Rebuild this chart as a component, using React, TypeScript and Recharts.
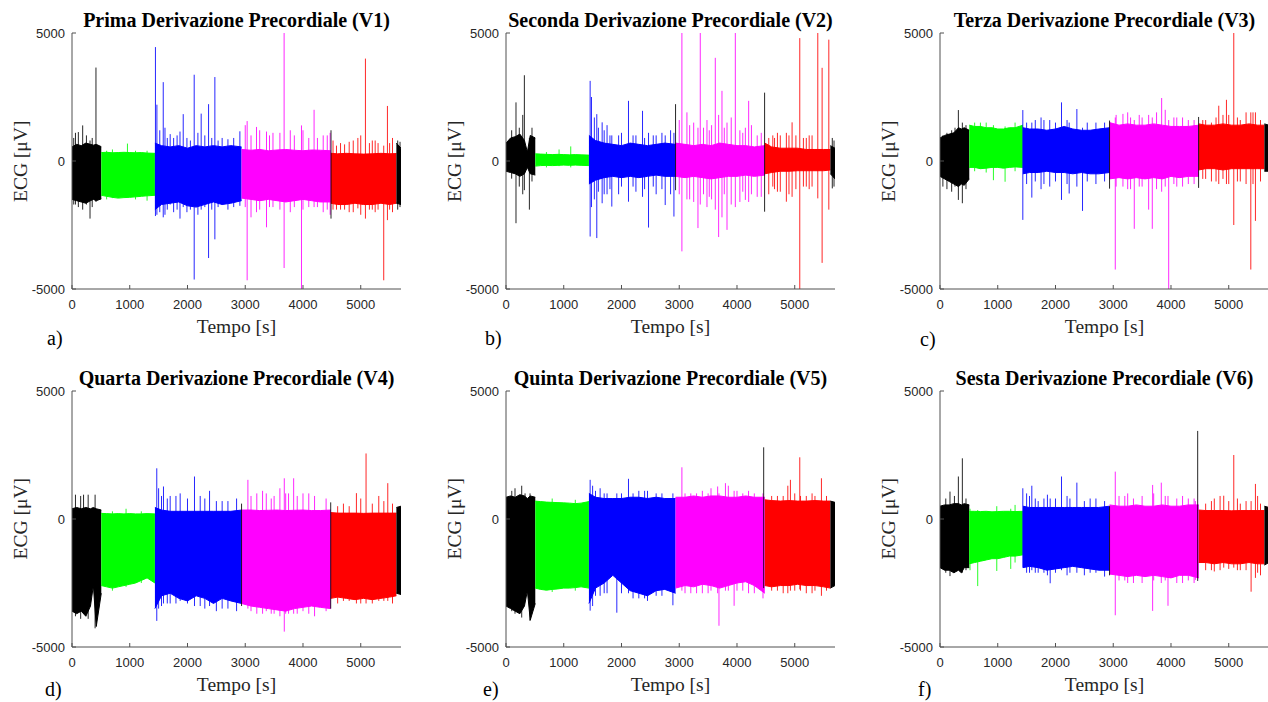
import React from 'react'
import { ComposedChart, Area, XAxis, YAxis, ReferenceLine } from 'recharts'

// time grid of each recording block (s), shared by the six leads
const SEG_T = [
  [0, 80, 160, 240, 320, 370, 420, 507],
  [507, 600, 700, 800, 900, 1000, 1100, 1200, 1300, 1436],
  [1436, 1550, 1700, 1850, 2000, 2150, 2300, 2450, 2600, 2750, 2936],
  [2936, 3100, 3250, 3400, 3550, 3700, 3850, 4000, 4150, 4300, 4481],
  [4481, 4600, 4750, 4900, 5050, 5200, 5350, 5500, 5617],
  [5617, 5697],
]
const SEG_COLORS = ['#000000', '#00ff00', '#0000ff', '#ff00ff', '#ff0000', '#000000']

const X_TICKS = [0, 1000, 2000, 3000, 4000, 5000]
const Y_TICKS = [-5000, 0, 5000]
const X_MAX = 5697

const TITLES = [
  'Prima Derivazione Precordiale (V1)',
  'Seconda Derivazione Precordiale (V2)',
  'Terza Derivazione Precordiale (V3)',
  'Quarta Derivazione Precordiale (V4)',
  'Quinta Derivazione Precordiale (V5)',
  'Sesta Derivazione Precordiale (V6)',
]
const LETTERS = ['a)', 'b)', 'c)', 'd)', 'e)', 'f)']

// envelope of the signal (µV), upper and lower, one list per block
const V1_HI = [
  [550, 650, 600, 700, 650, 620, 650, 560],
  [330, 340, 320, 330, 340, 330, 320, 330, 310, 300],
  [700, 600, 550, 600, 500, 600, 550, 600, 550, 600, 550],
  [450, 420, 450, 400, 430, 450, 420, 400, 430, 420, 400],
  [300, 280, 300, 280, 270, 280, 300, 280, 290],
  [700, 500],
]
const V1_LO = [
  [-1500, -1550, -1600, -1650, -1550, -1500, -1550, -1480],
  [-1340, -1380, -1420, -1450, -1430, -1420, -1400, -1380, -1360, -1340],
  [-1900, -1700, -1650, -1600, -1750, -1800, -1700, -1600, -1700, -1650, -1550],
  [-1450, -1500, -1550, -1500, -1550, -1600, -1550, -1500, -1550, -1600, -1600],
  [-1650, -1700, -1700, -1650, -1700, -1700, -1650, -1700, -1650],
  [-1650, -1700],
]
// spikes: [time, min, max, block]
const V1_SPIKES = [
  [30, -1700, 900, 0], [60, -1700, 1100, 0], [110, -1800, 1130, 0], [185, -1900, 1390, 0], [250, -1700, 1000, 0], [312, -2250, 800, 0],
  [350, -1800, 900, 0], [415, -1600, 3650, 0],
  [600, -1500, 400, 1], [700, -1450, 450, 1], [960, -1400, 680, 1], [1100, -1500, 400, 1], [1300, -1550, 400, 1],
  [1445, -2150, 4450, 2], [1470, -2100, 2200, 2], [1520, -2000, 1200, 2], [1580, -2200, 3080, 2], [1610, -2100, 1300, 2], [1650, -1900, 900, 2],
  [1700, -1700, 1050, 2], [1760, -2000, 900, 2], [1820, -1900, 1000, 2], [1870, -2250, 1150, 2], [1926, -1800, 1830, 2], [1990, -2000, 900, 2],
  [2050, -1900, 800, 2], [2116, -4630, 3370, 2], [2180, -2100, 1100, 2], [2237, -1900, 1850, 2], [2300, -1800, 1000, 2], [2365, -3790, 2220, 2],
  [2420, -1900, 900, 2], [2474, -3060, 3280, 2], [2530, -1800, 800, 2], [2600, -1700, 900, 2], [2700, -1900, 850, 2], [2800, -1800, 900, 2],
  [2907, -1750, 1160, 2],
  [3000, -1800, 1400, 3], [3033, -4660, 1560, 3], [3100, -2200, 1000, 3], [3195, -2000, 1330, 3], [3250, -1900, 1200, 3], [3368, -2590, 1150, 3],
  [3420, -1800, 1000, 3], [3480, -1800, 1100, 3], [3600, -1900, 1100, 3], [3673, -4180, 5000, 3], [3780, -2000, 1200, 3], [3850, -1800, 1000, 3],
  [3974, -5000, 1390, 3], [4000, -1900, 1200, 3], [4100, -1800, 900, 3], [4192, -1800, 2000, 3], [4250, -1800, 900, 3], [4350, -2000, 1000, 3],
  [4420, -1900, 1000, 3], [4470, -2100, 1100, 3],
  [4485, -2250, 1200, 5],
  [4520, -1900, 800, 4], [4580, -1900, 600, 4], [4650, -1900, 700, 4], [4720, -1900, 650, 4], [4800, -2000, 750, 4], [4870, -2000, 800, 4],
  [4950, -1850, 900, 4], [5000, -2100, 1000, 4], [5081, -2250, 4000, 4], [5150, -1900, 700, 4], [5200, -1900, 800, 4], [5250, -2000, 800, 4],
  [5300, -1900, 700, 4], [5398, -4660, 600, 4], [5462, -2310, 2150, 4], [5500, -1900, 700, 4], [5550, -2000, 900, 4],
  [5640, -1900, 800, 5], [5680, -1800, 750, 5],
]

const V2_HI = [
  [700, 900, 950, 1050, 800, 350, 1000, 900],
  [280, 270, 260, 250, 260, 250, 240, 250, 240, 230],
  [1000, 800, 700, 650, 600, 700, 650, 600, 650, 700, 650],
  [700, 650, 600, 650, 600, 700, 650, 600, 600, 550, 600],
  [700, 550, 500, 500, 500, 450, 450, 450, 450],
  [600, 500],
]
const V2_LO = [
  [-400, -450, -500, -600, -500, -250, -500, -550],
  [-200, -180, -170, -180, -170, -160, -170, -160, -170, -180],
  [-900, -750, -650, -600, -650, -600, -650, -600, -550, -600, -600],
  [-600, -650, -600, -650, -700, -650, -600, -600, -550, -600, -550],
  [-500, -450, -400, -400, -380, -380, -380, -380, -350],
  [-500, -700],
]
const V2_SPIKES = [
  [98, -690, 1200, 0], [173, -2430, 2290, 0], [230, -1000, 1300, 0], [290, -1300, 1800, 0], [318, -1140, 3350, 0], [405, -1900, 900, 0], [450, -800, 1300, 0],
  [700, -250, 350, 1], [919, -200, 450, 1], [1121, -250, 570, 1],
  [1457, -2950, 3130, 2], [1480, -1800, 2500, 2], [1530, -1500, 1700, 2], [1572, -3010, 1830, 2], [1600, -1200, 1300, 2], [1665, -1650, 1510, 2],
  [1700, -1300, 1200, 2], [1750, -1300, 1400, 2], [1800, -1100, 1000, 2], [1832, -1780, 1000, 2], [1950, -1300, 1000, 2], [2000, -1000, 1100, 2],
  [2121, -1590, 2350, 2], [2200, -1000, 1000, 2], [2250, -1200, 1000, 2], [2364, -1400, 1960, 2], [2400, -1100, 900, 2], [2468, -2600, 1100, 2],
  [2550, -1000, 1000, 2], [2600, -1300, 1000, 2], [2700, -1100, 1100, 2], [2757, -1720, 1000, 2], [2850, -1300, 1200, 2], [2908, -2170, 1100, 2],
  [2936, -1140, 2220, 5],
  [3000, -1300, 1600, 3], [3046, -3530, 5000, 3], [3133, -1500, 1900, 3], [3180, -1500, 1400, 3], [3250, -1600, 1500, 3], [3324, -2620, 1300, 3],
  [3364, -1700, 5000, 3], [3420, -1300, 1300, 3], [3480, -1800, 1600, 3], [3520, -1400, 1200, 3], [3560, -1500, 1400, 3], [3624, -1900, 4030, 3],
  [3682, -2970, 1800, 3], [3740, -2200, 2740, 3], [3780, -1300, 1300, 3], [3827, -2690, 1500, 3], [3900, -1700, 1700, 3], [3971, -1800, 5000, 3],
  [4050, -1600, 1200, 3], [4100, -1200, 1100, 3], [4145, -1520, 1300, 3], [4202, -1600, 2350, 3], [4250, -1300, 1400, 3], [4350, -1400, 1000, 3],
  [4420, -1400, 1100, 3],
  [4478, -1980, 2670, 5],
  [4550, -1300, 900, 4], [4620, -1000, 1000, 4], [4650, -1100, 900, 4], [4700, -1200, 1100, 4], [4750, -1200, 1000, 4], [4855, -1590, 1100, 4],
  [4900, -1300, 1000, 4], [4954, -1400, 1510, 4], [5020, -1100, 1000, 4], [5087, -5000, 4800, 4], [5150, -1000, 900, 4], [5200, -1000, 900, 4],
  [5250, -1100, 1000, 4], [5300, -1000, 1000, 4], [5399, -1460, 5000, 4], [5474, -3980, 3640, 4], [5590, -1900, 4740, 4],
  [5650, -1070, 900, 5], [5680, -1000, 800, 5],
]

const V3_HI = [
  [900, 1000, 1050, 1100, 1300, 1250, 1300, 1200],
  [1400, 1350, 1350, 1300, 1300, 1250, 1250, 1300, 1300, 1400],
  [1300, 1250, 1250, 1200, 1250, 1350, 1250, 1200, 1200, 1250, 1300],
  [1500, 1400, 1450, 1400, 1400, 1450, 1400, 1350, 1350, 1350, 1400],
  [1450, 1400, 1400, 1450, 1400, 1400, 1450, 1400, 1400],
  [1450, 1400],
]
const V3_LO = [
  [-600, -700, -800, -900, -1000, -900, -950, -700],
  [-250, -250, -300, -280, -250, -250, -280, -250, -230, -250],
  [-500, -450, -450, -400, -450, -450, -500, -450, -500, -500, -450],
  [-700, -650, -700, -650, -700, -650, -700, -600, -650, -600, -600],
  [-350, -300, -300, -350, -300, -300, -300, -300, -300],
  [-400, -400],
]
const V3_SPIKES = [
  [50, -1000, 1000, 0], [120, -1100, 1100, 0], [202, -1200, 1200, 0], [260, -1000, 1300, 0], [318, -1520, 1990, 0], [387, -1650, 1500, 0], [450, -1100, 1400, 0],
  [600, -400, 1500, 1], [700, -300, 1500, 1], [800, -450, 1500, 1], [925, -750, 1400, 1], [1127, -810, 1350, 1], [1300, -400, 1500, 1],
  [1434, -2300, 1990, 2], [1500, -900, 1500, 2], [1590, -1430, 1500, 2], [1650, -800, 1600, 2], [1750, -1100, 1700, 2], [1800, -900, 1600, 2],
  [1900, -1000, 1600, 2], [2000, -800, 1500, 2], [2104, -1520, 2290, 2], [2200, -900, 1600, 2], [2237, -1270, 1500, 2], [2370, -1000, 2030, 2],
  [2468, -1950, 1300, 2], [2550, -800, 1500, 2], [2700, -900, 1500, 2], [2850, -800, 1500, 2],
  [2936, -1080, 1580, 5],
  [3035, -4240, 1700, 3], [3050, -1000, 1800, 3], [3168, -1000, 1840, 3], [3250, -1100, 1900, 3], [3300, -1100, 1700, 3], [3364, -2650, 1600, 3],
  [3450, -1000, 1800, 3], [3500, -1000, 1700, 3], [3613, -1900, 1800, 3], [3676, -2650, 1700, 3], [3750, -1100, 1900, 3], [3838, -1200, 2460, 3],
  [3900, -1000, 2000, 3], [3960, -5000, 1600, 3], [4050, -900, 1700, 3], [4100, -1000, 1700, 3], [4200, -1000, 1700, 3], [4300, -900, 1600, 3],
  [4400, -900, 1600, 3],
  [4478, -1050, 1720, 5],
  [4550, -700, 1600, 4], [4600, -700, 1600, 4], [4700, -800, 1500, 4], [4780, -800, 1700, 4], [4827, -900, 2160, 4], [4900, -700, 1800, 4],
  [4960, -900, 2390, 4], [5000, -900, 1800, 4], [5087, -2500, 5000, 4], [5150, -800, 1700, 4], [5200, -800, 1600, 4], [5300, -900, 1900, 4],
  [5382, -4240, 1900, 4], [5420, -900, 1900, 4], [5462, -2340, 1900, 4], [5550, -800, 1600, 4],
]

const V4_HI = [
  [400, 450, 400, 450, 400, 450, 400, 350],
  [220, 210, 200, 210, 200, 210, 200, 200, 210, 200],
  [450, 350, 300, 300, 300, 300, 300, 300, 300, 300, 350],
  [350, 350, 330, 340, 350, 330, 340, 350, 330, 330, 350],
  [250, 230, 230, 230, 220, 230, 230, 230, 230],
  [450, 500],
]
const V4_LO = [
  [-3600, -3700, -3600, -3800, -3400, -2600, -4200, -2900],
  [-2600, -2650, -2700, -2650, -2600, -2550, -2500, -2400, -2300, -2500],
  [-3500, -3000, -2900, -3100, -3200, -3000, -3100, -3300, -3100, -3200, -3300],
  [-3300, -3400, -3450, -3500, -3550, -3600, -3500, -3450, -3400, -3450, -3500],
  [-3100, -3050, -3100, -3150, -3100, -3150, -3100, -3050, -3000],
  [-2900, -2950],
]
const V4_SPIKES = [
  [60, -3800, 950, 0], [150, -3900, 900, 0], [200, -3700, 950, 0], [280, -3900, 950, 0], [400, -4270, 950, 0],
  [700, -2800, 300, 1], [936, -2650, 400, 1], [1200, -2500, 300, 1],
  [1468, -3980, 1980, 2], [1500, -3500, 1200, 2], [1550, -3400, 900, 2], [1584, -3300, 1270, 2], [1650, -3300, 800, 2], [1700, -3300, 900, 2],
  [1800, -3300, 900, 2], [1873, -3200, 1000, 2], [2000, -3300, 800, 2], [2121, -3400, 1660, 2], [2220, -3400, 900, 2], [2300, -3500, 800, 2],
  [2382, -3400, 1100, 2], [2500, -3600, 700, 2], [2600, -3500, 700, 2], [2700, -3500, 700, 2], [2850, -3600, 800, 2],
  [2936, -3400, 600, 5],
  [3046, -3500, 1530, 3], [3100, -3600, 900, 3], [3200, -3700, 1000, 3], [3300, -3700, 1100, 3], [3364, -3600, 1000, 3], [3450, -3700, 800, 3],
  [3500, -3700, 900, 3], [3600, -3800, 1200, 3], [3676, -4400, 1590, 3], [3700, -3700, 1000, 3], [3750, -3700, 1000, 3], [3838, -3700, 1590, 3],
  [3900, -3700, 900, 3], [4000, -3600, 1000, 3], [4100, -3700, 1000, 3], [4200, -3800, 900, 3], [4400, -3600, 800, 3],
  [4480, -3500, 650, 5],
  [4600, -3300, 500, 4], [4700, -3200, 600, 4], [4800, -3200, 500, 4], [4925, -3300, 1010, 4], [5000, -3300, 800, 4], [5092, -3300, 2560, 4],
  [5200, -3300, 600, 4], [5312, -3200, 900, 4], [5400, -3200, 700, 4], [5468, -3200, 1400, 4], [5550, -3300, 600, 4],
]

const V5_HI = [
  [850, 900, 850, 950, 900, 800, 900, 850],
  [700, 680, 660, 650, 640, 630, 620, 600, 620, 680],
  [1000, 850, 800, 800, 800, 850, 850, 800, 850, 800, 800],
  [850, 850, 900, 850, 900, 900, 850, 850, 900, 850, 850],
  [750, 720, 700, 720, 700, 700, 720, 700, 700],
  [700, 650],
]
const V5_LO = [
  [-3400, -3500, -3600, -3700, -3400, -2800, -3950, -3300],
  [-2700, -2750, -2780, -2750, -2730, -2700, -2700, -2680, -2650, -2700],
  [-3300, -2700, -2500, -2200, -2500, -2800, -2900, -3000, -2800, -2750, -2900],
  [-2700, -2600, -2650, -2550, -2600, -2700, -2600, -2500, -2450, -2600, -2900],
  [-2600, -2650, -2600, -2600, -2550, -2600, -2600, -2650, -2700],
  [-2700, -2600],
]
const V5_SPIKES = [
  [100, -3600, 1100, 0], [156, -3700, 1200, 0], [272, -3850, 1300, 0], [330, -3000, 1000, 0], [416, -3980, 1000, 0],
  [800, -2850, 800, 1], [1200, -2800, 750, 1],
  [1457, -3580, 1530, 2], [1500, -3400, 1300, 2], [1550, -3000, 1100, 2], [1630, -3000, 1200, 2], [1700, -2900, 1000, 2], [1750, -2900, 1000, 2],
  [1919, -3660, 1000, 2], [2000, -2900, 1000, 2], [2121, -2900, 1570, 2], [2200, -3100, 1000, 2], [2300, -3100, 1100, 2], [2400, -3100, 1100, 2],
  [2450, -3200, 1100, 2], [2600, -3000, 1000, 2], [2700, -3000, 1000, 2], [2890, -3370, 1000, 2],
  [3046, -2800, 2020, 3], [3100, -2900, 1000, 3], [3200, -2900, 1000, 3], [3300, -2900, 1000, 3], [3400, -2900, 1100, 3], [3500, -2900, 1000, 3],
  [3550, -2800, 1200, 3], [3665, -2900, 1270, 3], [3688, -4170, 1000, 3], [3800, -2800, 1400, 3], [3850, -2800, 1300, 3], [3950, -3390, 1100, 3],
  [4000, -2800, 1100, 3], [4100, -2800, 1000, 3], [4200, -2900, 1100, 3], [4300, -2900, 1000, 3], [4450, -3100, 1000, 3],
  [4462, -2700, 2800, 5],
  [4600, -2800, 900, 4], [4700, -2800, 900, 4], [4800, -2900, 900, 4], [4880, -2900, 1300, 4], [4925, -2800, 1530, 4], [5000, -2800, 1000, 4],
  [5087, -2750, 2410, 4], [5100, -2800, 900, 4], [5200, -2900, 900, 4], [5300, -2900, 1000, 4], [5350, -2800, 900, 4], [5462, -3000, 1590, 4],
  [5550, -2800, 900, 4],
]

const V6_HI = [
  [500, 550, 550, 600, 600, 550, 600, 550],
  [300, 300, 290, 300, 280, 290, 300, 300, 290, 300],
  [500, 450, 450, 450, 450, 450, 450, 450, 450, 450, 500],
  [550, 500, 500, 550, 500, 500, 550, 500, 500, 550, 550],
  [350, 330, 330, 330, 320, 330, 330, 330, 330],
  [500, 450],
]
const V6_LO = [
  [-1900, -2000, -2000, -2100, -2000, -2100, -1900, -1900],
  [-1750, -1700, -1650, -1600, -1550, -1550, -1500, -1450, -1450, -1400],
  [-1900, -1850, -1900, -2000, -1950, -1900, -1850, -1900, -1950, -2000, -2000],
  [-2150, -2200, -2250, -2200, -2250, -2200, -2250, -2300, -2200, -2200, -2300],
  [-1700, -1700, -1750, -1700, -1750, -1750, -1700, -1750, -1750],
  [-1800, -1700],
]
const V6_SPIKES = [
  [100, -2100, 800, 0], [173, -2230, 1070, 0], [250, -2100, 900, 0], [318, -2000, 1660, 0], [387, -2100, 2370, 0], [450, -2000, 800, 0],
  [520, -2000, 400, 1], [653, -2620, 350, 1], [983, -2030, 500, 1], [1225, -1950, 400, 1], [1300, -1700, 550, 1],
  [1434, -1900, 1200, 2], [1500, -2100, 1000, 2], [1550, -2100, 900, 2], [1590, -2000, 1300, 2], [1650, -2100, 800, 2], [1700, -2100, 700, 2],
  [1800, -2100, 800, 2], [1860, -2200, 950, 2], [1908, -2510, 800, 2], [2000, -2100, 800, 2], [2104, -2000, 1660, 2], [2200, -2200, 900, 2],
  [2250, -2100, 800, 2], [2370, -2100, 1420, 2], [2500, -2200, 700, 2], [2600, -2100, 800, 2], [2700, -2100, 800, 2], [2850, -2250, 700, 2],
  [2936, -2200, 500, 5],
  [3035, -3760, 1850, 3], [3100, -2400, 900, 3], [3200, -2400, 900, 3], [3250, -2500, 1000, 3], [3350, -2500, 800, 3], [3500, -2500, 900, 3],
  [3682, -3590, 1330, 3], [3700, -2400, 1000, 3], [3832, -2500, 1420, 3], [3900, -2400, 900, 3], [3948, -3390, 900, 3], [4100, -2500, 800, 3],
  [4200, -2500, 900, 3], [4300, -2400, 800, 3], [4400, -2500, 800, 3], [4422, -2380, 700, 3],
  [4462, -2420, 3440, 5],
  [4600, -2000, 600, 4], [4700, -2000, 700, 4], [4750, -2050, 800, 4], [4850, -2000, 900, 4], [4913, -1900, 910, 4], [5000, -1950, 700, 4],
  [5087, -1900, 2500, 4], [5150, -2000, 800, 4], [5200, -2000, 600, 4], [5300, -2000, 700, 4], [5387, -2840, 700, 4], [5462, -2300, 1370, 4],
  [5500, -2100, 900, 4], [5550, -2200, 600, 4],
]

const LEADS = [
  { hi: V1_HI, lo: V1_LO, spikes: V1_SPIKES },
  { hi: V2_HI, lo: V2_LO, spikes: V2_SPIKES },
  { hi: V3_HI, lo: V3_LO, spikes: V3_SPIKES },
  { hi: V4_HI, lo: V4_LO, spikes: V4_SPIKES },
  { hi: V5_HI, lo: V5_LO, spikes: V5_SPIKES },
  { hi: V6_HI, lo: V6_LO, spikes: V6_SPIKES },
]

// plot-area corners on the page and the panel letter positions
const PLOT_W = 329
const PLOT_H = 256
const POS = [
  { left: 72, top: 33.3, lx: 47, ly: 345 },
  { left: 506, top: 33.3, lx: 485, ly: 345 },
  { left: 940, top: 33.3, lx: 920, ly: 346 },
  { left: 72, top: 390.7, lx: 45, ly: 696 },
  { left: 506, top: 390.7, lx: 483, ly: 696 },
  { left: 940, top: 390.7, lx: 918, ly: 696 },
]

const SERIF = "'Liberation Serif', 'Times New Roman', serif"
const SANS = "'Liberation Sans', Arial, sans-serif"
const AXIS_DARK = '#505050'
const AXIS_LIGHT = '#8c8c8c'

function buildRows(hi: number[][], lo: number[][]) {
  const map = new Map<number, any>()
  SEG_T.forEach((ts, s) => {
    ts.forEach((t, j) => {
      const row = map.get(t) ?? { t }
      row[`s${s}`] = [lo[s][j], hi[s][j]]
      map.set(t, row)
    })
  })
  return [...map.values()].sort((a, b) => a.t - b.t)
}

const LeftTick = ({ x, y, payload }: any) => (
  <g>
    <line x1={x} x2={x + 4} y1={y} y2={y} stroke={AXIS_DARK} />
    <text x={x - 7} y={y + 4.6} textAnchor="end" fontFamily={SANS} fontSize={13} fill="#262626">{payload.value}</text>
  </g>
)
const BottomTick = ({ x, y, payload }: any) => (
  <g>
    <line x1={x} x2={x} y1={y} y2={y - 4} stroke={AXIS_DARK} />
    <text x={x} y={y + 20} textAnchor="middle" fontFamily={SANS} fontSize={13} fill="#262626">{payload.value}</text>
  </g>
)
const TopTick = ({ x, y }: any) => <line x1={x} x2={x} y1={y} y2={y + 4} stroke={AXIS_LIGHT} />
const RightTick = ({ x, y }: any) => <line x1={x} x2={x - 4} y1={y} y2={y} stroke={AXIS_LIGHT} />

function Panel({ idx }: { idx: number }) {
  const lead = LEADS[idx]
  const pos = POS[idx]
  const rows = buildRows(lead.hi, lead.lo)
  return (
    <div style={{ position: 'absolute', left: pos.left - 60, top: pos.top - 10 }}>
      <ComposedChart width={PLOT_W + 70} height={PLOT_H + 40} data={rows} margin={{ top: 10, right: 10, bottom: 0, left: 0 }}>
        <XAxis
          dataKey="t" type="number" domain={[0, X_MAX]} ticks={X_TICKS} interval={0} allowDataOverflow
          height={30} tickSize={0} tickMargin={0} tickLine={false}
          axisLine={{ stroke: AXIS_DARK }} tick={(p: any) => <BottomTick {...p} />}
        />
        <XAxis
          xAxisId="top" orientation="top" dataKey="t" type="number" domain={[0, X_MAX]} ticks={X_TICKS} interval={0} allowDataOverflow
          height={0} tickSize={0} tickMargin={0} tickLine={false}
          axisLine={{ stroke: AXIS_LIGHT }} tick={(p: any) => <TopTick {...p} />}
        />
        <YAxis
          type="number" domain={[-5000, 5000]} ticks={Y_TICKS} interval={0} allowDataOverflow
          width={60} tickSize={0} tickMargin={0} tickLine={false}
          axisLine={{ stroke: AXIS_DARK }} tick={(p: any) => <LeftTick {...p} />}
        />
        <YAxis
          yAxisId="right" orientation="right" type="number" domain={[-5000, 5000]} ticks={Y_TICKS} interval={0} allowDataOverflow
          width={0} tickSize={0} tickMargin={0} tickLine={false}
          axisLine={{ stroke: AXIS_DARK }} tick={(p: any) => <RightTick {...p} />}
        />
        {SEG_COLORS.map((c, s) => (
          <Area
            key={s} dataKey={`s${s}`} type="linear" stroke={c} strokeWidth={1} fill={c} fillOpacity={1}
            dot={false} activeDot={false} isAnimationActive={false}
          />
        ))}
        {lead.spikes.map(([t, a, b, s], i) => (
          <ReferenceLine
            key={i} ifOverflow="hidden" stroke={SEG_COLORS[s]} strokeWidth={1} strokeOpacity={0.85}
            segment={[{ x: t, y: a }, { x: t, y: b }]}
          />
        ))}
      </ComposedChart>
    </div>
  )
}

export default function App() {
  return (
    <div style={{ position: 'absolute', left: 0, top: 0, width: 1268, height: 702, overflow: 'hidden', background: '#fff' }}>
      {LEADS.map((_, i) => <Panel key={i} idx={i} />)}
      <svg width={1268} height={702} style={{ position: 'absolute', left: 0, top: 0, pointerEvents: 'none' }}>
        {POS.map((p, i) => (
          <g key={i}>
            <text x={p.left + PLOT_W / 2} y={p.top - 6} textAnchor="middle" fontFamily={SERIF} fontWeight="bold" fontSize={20} fill="#000">
              {TITLES[i]}
            </text>
            <text
              x={p.left - 45} y={p.top + PLOT_H / 2} textAnchor="middle" fontFamily={SERIF} fontSize={19.5} fill="#262626"
              transform={`rotate(-90 ${p.left - 45} ${p.top + PLOT_H / 2})`}
            >
              ECG [μV]
            </text>
            <text x={p.left + PLOT_W / 2} y={p.top + PLOT_H + 44} textAnchor="middle" fontFamily={SERIF} fontSize={19.5} fill="#262626">
              Tempo [s]
            </text>
            <text x={p.lx} y={p.ly} fontFamily={SERIF} fontSize={20} fill="#000">{LETTERS[i]}</text>
          </g>
        ))}
      </svg>
    </div>
  )
}
